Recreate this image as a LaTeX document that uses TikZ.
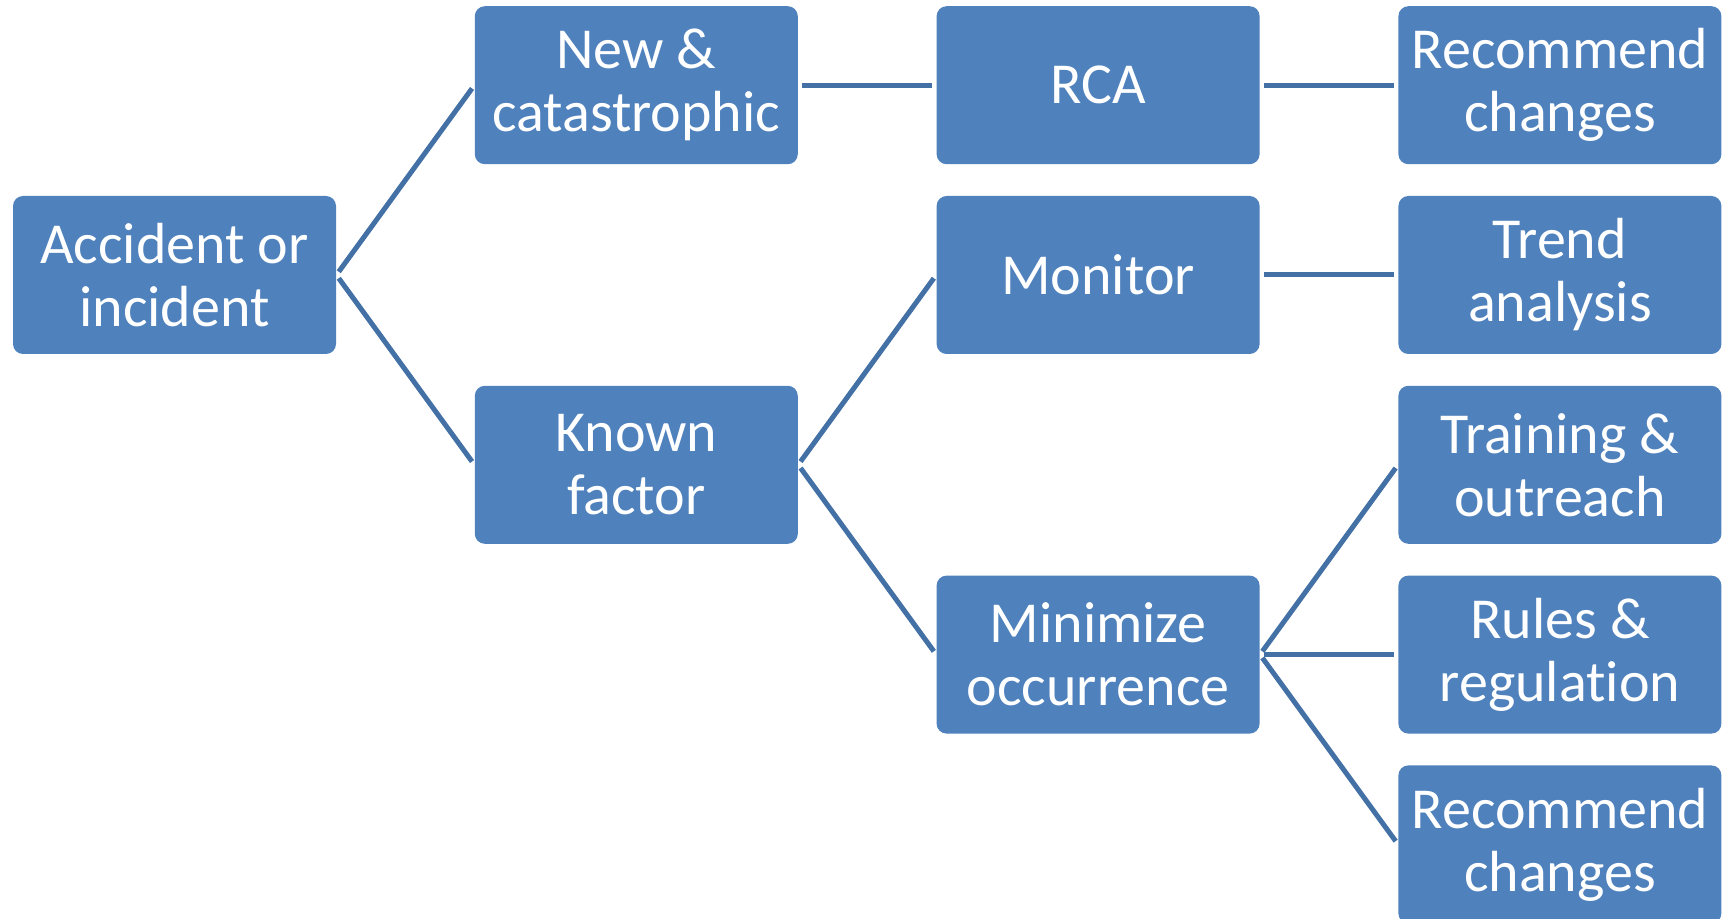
\documentclass[tikz,border=0pt]{standalone}
\usepackage{fontspec}
\setmainfont{Carlito}[Ligatures={NoCommon,NoRare,NoContextual}]
\usepackage{tikz}
\usetikzlibrary{positioning}
\definecolor{boxblue}{HTML}{4F81BD}
\definecolor{lineblue}{HTML}{4371A6}
\tikzset{node distance=15.5pt and 69pt,
  box/.style={fill=boxblue, rounded corners=5pt, text=white, align=center,
    minimum width=161.5pt, minimum height=79pt, inner sep=0pt,
    font=\fontsize{29pt}{31.5pt}\selectfont},
  link/.style={draw=lineblue, line width=2.5pt, shorten >=2pt, shorten <=2pt}}

\begin{document}
\begin{tikzpicture}
                \clip (0,0) rectangle (862.5pt,-459.5pt);
                \useasboundingbox (0,0) rectangle (862.5pt,-459.5pt);
                \node (acc) [box] at (87.25pt,-137.5pt) {Accident or\\incident};
                \node (newcat) [box, above right=of acc] {New \&\\catastrophic};
                \node (known) [box, below right=of acc] {Known\\factor};
                \node (rca) [box, right=of newcat] {RCA};
                \node (monitor) [box, above right=of known] {Monitor};
                \node (minimize) [box, below right=of known] {Minimize\\occurrence};
                \node (recom) [box, right=of rca] {Recommend\\changes};
                \node (trend) [box, right=of monitor] {Trend\\analysis};
                \node (rules) [box, right=of minimize] {Rules \&\\regulation};
                \node (training) [box, above=of rules] {Training \&\\outreach};
                \node (recomb) [box, below=of rules] {Recommend\\changes};
                \draw[link] (acc.east) to (newcat.west);
                \draw[link] (acc.east) to (known.west);
                \draw[link] (newcat.east) to (rca.west);
                \draw[link] (rca.east) to (recom.west);
                \draw[link] (known.east) to (monitor.west);
                \draw[link] (known.east) to (minimize.west);
                \draw[link] (monitor.east) to (trend.west);
                \draw[link] (minimize.east) to (training.west);
                \draw[link] (minimize.east) to (rules.west);
                \draw[link] (minimize.east) to (recomb.west);
              \end{tikzpicture}
\end{document}
